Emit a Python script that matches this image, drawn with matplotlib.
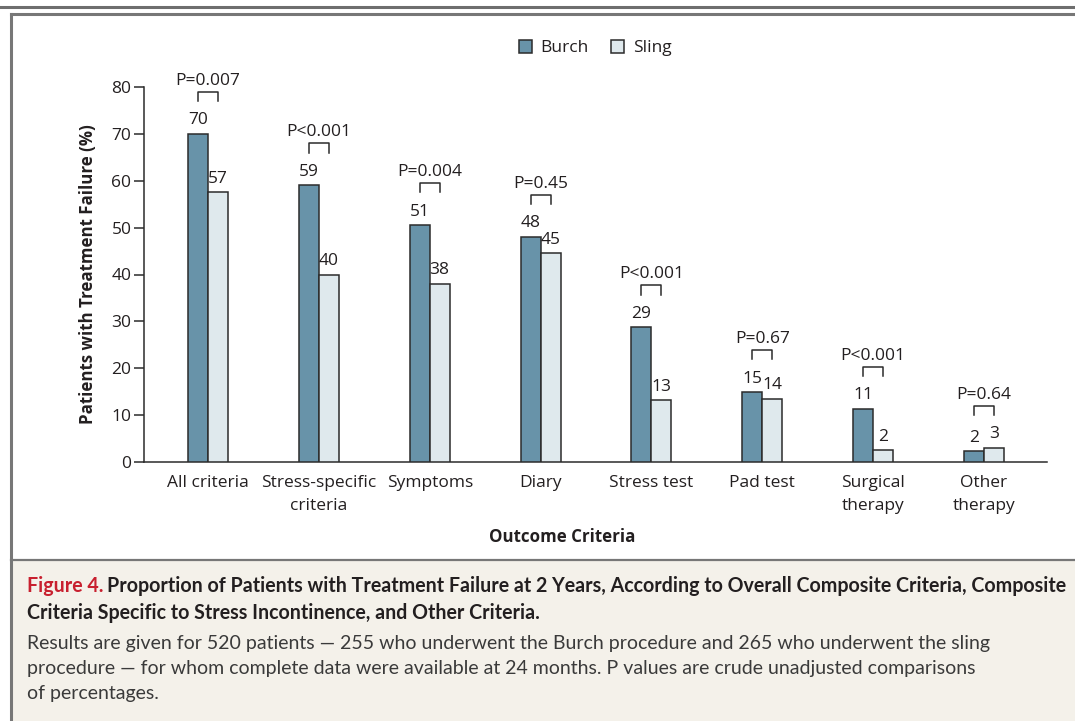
import matplotlib
matplotlib.use("Agg")
import matplotlib.pyplot as plt
from matplotlib.patches import Rectangle, Patch
from matplotlib.lines import Line2D
import numpy as np

plt.rcParams['font.family'] = ['Open Sans', 'DejaVu Sans']

# data
categories = ["All criteria", "Stress-specific\ncriteria", "Symptoms", "Diary",
              "Stress test", "Pad test", "Surgical\ntherapy", "Other\ntherapy"]
burch = [70.0, 59.0, 50.5, 48.0, 28.7, 14.9, 11.3, 2.3]
sling = [57.5, 40.0, 38.0, 44.5, 13.2, 13.5, 2.5, 3.0]
burch_labels = ["70", "59", "51", "48", "29", "15", "11", "2"]
sling_labels = ["57", "40", "38", "45", "13", "14", "2", "3"]
p_values = ["P=0.007", "P<0.001", "P=0.004", "P=0.45",
            "P<0.001", "P=0.67", "P<0.001", "P=0.64"]

burch_color = "#6893a9"
sling_color = "#dfe9ed"
edge = "#2b2b2b"
text_color = "#231f20"
fs = 12.5

fig = plt.figure(figsize=(10.75, 7.21), dpi=100)
W, H = 1075, 721

def fx(px):
    return px / W

def fy(py):
    return 1 - py / H

# frame and caption panel
fig.patches.append(Rectangle((fx(12), 0), 1, fy(561), transform=fig.transFigure,
                             facecolor="#f4f1ea", edgecolor="none", zorder=0))
fig.lines.append(Line2D([0, 1], [fy(7), fy(7)], transform=fig.transFigure, color="#6e6e6e", lw=2.2))
fig.lines.append(Line2D([fx(11), 1], [fy(14), fy(14)], transform=fig.transFigure, color="#777777", lw=2.2))
fig.lines.append(Line2D([fx(11), fx(11)], [0, fy(14)], transform=fig.transFigure, color="#777777", lw=2.2))
fig.lines.append(Line2D([fx(11), 1], [fy(560), fy(560)], transform=fig.transFigure, color="#777777", lw=1.6))

ax = fig.add_axes([fx(144), fy(462), fx(1047) - fx(144), fy(87) - fy(462)])
x = np.arange(len(categories))
w = 0.18
ax.bar(x - w / 2, burch, w, color=burch_color, edgecolor=edge, linewidth=1.1, label="Burch", zorder=3)
ax.bar(x + w / 2, sling, w, color=sling_color, edgecolor=edge, linewidth=1.1, label="Sling", zorder=3)

for i in range(len(categories)):
    ax.annotate(burch_labels[i], (x[i] - w / 2, burch[i]), xytext=(0, 4), textcoords="offset points",
                ha="center", va="bottom", fontsize=fs, color=text_color)
    ax.annotate(sling_labels[i], (x[i] + w / 2, sling[i]), xytext=(0, 4), textcoords="offset points",
                ha="center", va="bottom", fontsize=fs, color=text_color)
    top = max(burch[i], sling[i])
    yb, yt = top + 7.0, top + 9.0
    ax.plot([x[i] - w / 2, x[i] - w / 2, x[i] + w / 2, x[i] + w / 2], [yb, yt, yt, yb],
            color=edge, lw=1.1, clip_on=False)
    ax.text(x[i], yt + 0.6, p_values[i], ha="center", va="bottom", fontsize=fs, color=text_color)

ax.set_xlim(-0.577, 7.568)
ax.set_ylim(0, 80)
ax.set_yticks(range(0, 81, 10))
ax.set_xticks(x)
ax.set_xticklabels(categories, fontsize=fs, color=text_color, linespacing=1.65)
ax.tick_params(axis="x", length=0, pad=9)
ax.tick_params(axis="y", length=7, width=1.1, color=edge, labelsize=fs, labelcolor=text_color, pad=2)
for s in ["top", "right"]:
    ax.spines[s].set_visible(False)
for s in ["left", "bottom"]:
    ax.spines[s].set_linewidth(1.1)
    ax.spines[s].set_color(edge)
ax.set_ylabel("Patients with Treatment Failure (%)", fontsize=12.2, fontweight="bold", color=text_color)
ax.yaxis.set_label_coords((88 - 144) / (1047 - 144), 0.5)
ax.set_xlabel("Outcome Criteria", fontsize=12.2, fontweight="bold", color=text_color)
ax.xaxis.set_label_coords((562 - 144) / (1047 - 144), -(537 - 462) / (462 - 87))
ax.xaxis.label.set_va("center")
ax.yaxis.label.set_va("center")

handles = [Patch(facecolor=burch_color, edgecolor=edge, linewidth=1.1),
           Patch(facecolor=sling_color, edgecolor=edge, linewidth=1.1)]
fig.legend(handles, ["Burch", "Sling"], loc="center", bbox_to_anchor=(fx(595), fy(48)), ncol=2,
           frameon=False, fontsize=fs, handlelength=0.75, handleheight=0.75, handletextpad=0.5,
           columnspacing=1.3, labelcolor=text_color)

# caption
cap_font = ["Lato", "DejaVu Sans"]
cx = 27
t1 = fig.text(fx(cx), fy(586), "Figure 4.", fontsize=14.1, fontweight="bold", color="#c8202f",
              family=cap_font, va="center")
fig.canvas.draw()
bb = t1.get_window_extent(renderer=fig.canvas.get_renderer())
fig.text(bb.x1 / W + fx(4), fy(586),
         "Proportion of Patients with Treatment Failure at 2 Years, According to Overall Composite Criteria, Composite",
         fontsize=14.1, fontweight="bold", color=text_color, family=cap_font, va="center")
fig.text(fx(cx), fy(613), "Criteria Specific to Stress Incontinence, and Other Criteria.", fontsize=14.1,
         fontweight="bold", color=text_color, family=cap_font, va="center")
body = ["Results are given for 520 patients \u2014 255 who underwent the Burch procedure and 265 who underwent the sling",
        "procedure \u2014 for whom complete data were available at 24 months. P values are crude unadjusted comparisons",
        "of percentages."]
for j, line in enumerate(body):
    fig.text(fx(cx), fy(643 + 25.5 * j), line, fontsize=14.0, color="#3a3a3a",
             family=cap_font, va="center")

fig.savefig("out.png", dpi=100)
